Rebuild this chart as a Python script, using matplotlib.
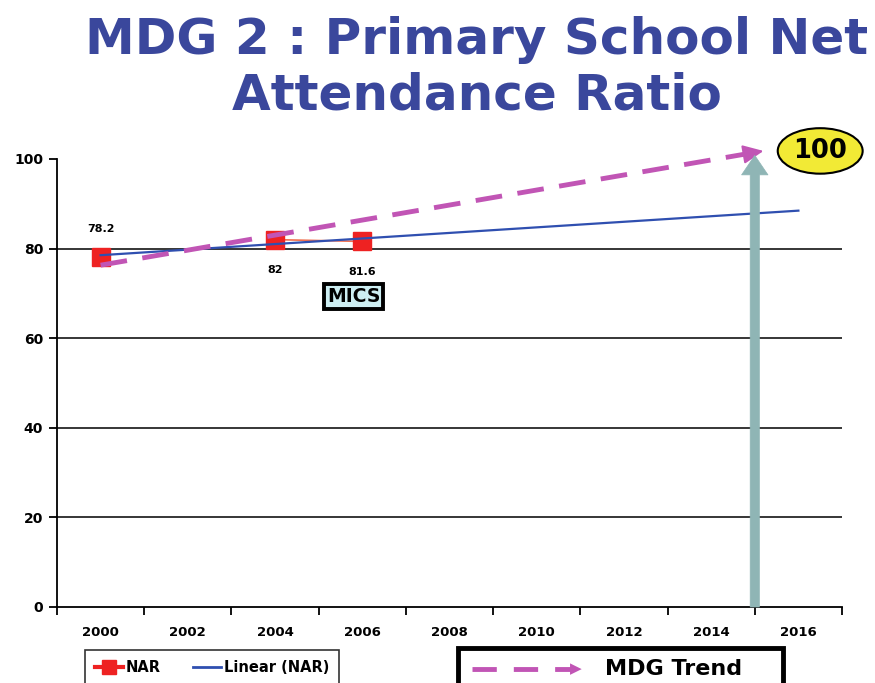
import matplotlib
matplotlib.use('Agg')
import matplotlib.pyplot as plt
import numpy as np
from matplotlib.lines import Line2D
from matplotlib.patches import Rectangle

# ---- data ----
years = [2000, 2002, 2004, 2006]
nar = [78.2, np.nan, 82.0, 81.6]
label_years = [2000, 2004, 2006]
label_texts = ['78.2', '82', '81.6']
label_above = [True, False, False]
tick_labels = [2000, 2002, 2004, 2006, 2008, 2010, 2012, 2014, 2016]
trend_range = [2000, 2016]
mdg_start = (2000, 76.3)
mdg_end = (2015.2, 101.8)
target_year = 2015
target_value = 100
yticks = [0, 20, 40, 60, 80, 100]

fig = plt.figure(figsize=(8.75, 6.83), dpi=100)
ax = fig.add_axes([57/875, 1-607/683, (842-57)/875, (607-159)/683])

# gridlines
for v in [20, 40, 60, 80]:
    ax.axhline(v, color='black', lw=1.1, zorder=1)

# linear trend
yr = np.array([y for y, v in zip(years, nar) if not np.isnan(v)], float)
vv = np.array([v for v in nar if not np.isnan(v)], float)
coef = np.polyfit(yr, vv, 1)
tx = np.array(trend_range, float)
ax.plot(tx, np.polyval(coef, tx), color='#2f4fb0', lw=1.6, zorder=4, clip_on=False)

# NAR series
ax.plot(years, nar, color='#f07050', lw=1.2, zorder=3)
ax.plot(years, nar, ls='none', marker='s', ms=13, color='#ee2222', mec='#ee2222', zorder=3)

# data labels
for x, t, up in zip(label_years, label_texts, label_above):
    y = nar[years.index(x)]
    off = 20 if up else -22
    ax.annotate(t, (x, y), xytext=(0, off), textcoords='offset points', ha='center',
                va='center', fontsize=8, fontweight='bold', family='DejaVu Sans')

# MICS box
ax.text(2005.8, 69.3, 'MICS', ha='center', va='center', fontsize=13.5, fontweight='bold',
        family='DejaVu Sans',
        bbox=dict(boxstyle='square,pad=0.15', fc='#cdeef2', ec='black', lw=2.8))

# MDG trend dashed arrow
mx = np.array([mdg_start[0], mdg_end[0]])
my = np.array([mdg_start[1], mdg_end[1]])
frac = 0.975
ax.plot([mx[0], mx[0] + (mx[1]-mx[0])*frac], [my[0], my[0] + (my[1]-my[0])*frac],
        color='#c155b5', lw=3.5, dashes=(5.5, 3.2), zorder=5, clip_on=False)
ax.annotate('', xy=mdg_end, xytext=(mx[0] + (mx[1]-mx[0])*0.96, my[0] + (my[1]-my[0])*0.96),
            arrowprops=dict(arrowstyle='-|>,head_length=0.7,head_width=0.32', color='#c155b5',
                            lw=1.5, mutation_scale=18, shrinkA=0, shrinkB=0),
            annotation_clip=False, zorder=5)

# vertical target arrow
ax.annotate('', xy=(target_year, target_value + 0.8), xytext=(target_year, 0),
            arrowprops=dict(arrowstyle='simple,head_length=0.7,head_width=0.95,tail_width=0.33',
                            fc='#8fb5b5', ec='#8fb5b5', lw=0.5, mutation_scale=20,
                            shrinkA=0, shrinkB=0),
            annotation_clip=False, zorder=6)

# target ellipse
ax.text(2016.5, 101.8, str(target_value), ha='center', va='center', fontsize=18.5,
        fontweight='bold', family='DejaVu Sans', zorder=7, clip_on=False,
        bbox=dict(boxstyle='ellipse,pad=0.12', fc='#f2ea35', ec='black', lw=1.5))

# axes setup
ax.set_xlim(1999, 2017)
ax.set_ylim(0, 100)
ax.set_xticks(np.arange(1999, 2018, 2))
ax.set_xticklabels([])
ax.set_xticks(tick_labels, minor=True)
ax.set_xticklabels([str(t) for t in tick_labels], minor=True, fontsize=9.5, fontweight='bold',
                   family='DejaVu Sans')
ax.tick_params(axis='x', which='minor', length=0, pad=14)
ax.tick_params(axis='x', which='major', length=6, width=1.3, direction='out')
ax.set_yticks(yticks)
ax.set_yticklabels([str(v) for v in yticks], fontsize=10, fontweight='bold', family='DejaVu Sans')
ax.tick_params(axis='y', length=6, width=1.3, direction='out', pad=4)
for s in ['top', 'right']:
    ax.spines[s].set_visible(False)
for s in ['left', 'bottom']:
    ax.spines[s].set_linewidth(1.3)

# title
fig.text(0.545, 1-40/683, 'MDG 2 : Primary School Net', ha='center', va='center', fontsize=36,
         fontweight='bold', color='#3a479c', family='DejaVu Sans')
fig.text(0.545, 1-95/683, 'Attendance Ratio', ha='center', va='center', fontsize=36,
         fontweight='bold', color='#3a479c', family='DejaVu Sans')

# legend 1
h1 = Line2D([], [], color='#ee2222', lw=3, marker='s', ms=10)
h2 = Line2D([], [], color='#2f4fb0', lw=2)
leg = fig.legend([h1, h2], ['NAR', 'Linear (NAR)'], loc='upper left',
                 bbox_to_anchor=(85/875, 1-650/683), ncol=2, frameon=True, fancybox=False,
                 edgecolor='black', prop=dict(size=10.5, weight='bold', family='DejaVu Sans'),
                 handlelength=1.9, handletextpad=0.2, columnspacing=2.2, borderpad=0.7,
                 borderaxespad=0)
leg.get_frame().set_linewidth(1.2)

# legend 2 (MDG trend)
fig.patches.append(Rectangle((458/875, 1-700/683), (783-458)/875, 52/683, transform=fig.transFigure,
                             fc='white', ec='black', lw=3.5))
fig.lines.append(Line2D([472/875, 573/875], [1-669/683]*2, transform=fig.transFigure,
                        color='#c155b5', lw=3.5, dashes=(5, 3.5)))
fig.text(570/875, 1-669/683, '\u25B6', transform=fig.transFigure, color='#c155b5',
         fontsize=11, ha='left', va='center', family='DejaVu Sans')
fig.text(605/875, 1-669/683, 'MDG Trend', ha='left', va='center', fontsize=16,
         fontweight='bold', family='DejaVu Sans')

fig.savefig('out.png', dpi=100)
